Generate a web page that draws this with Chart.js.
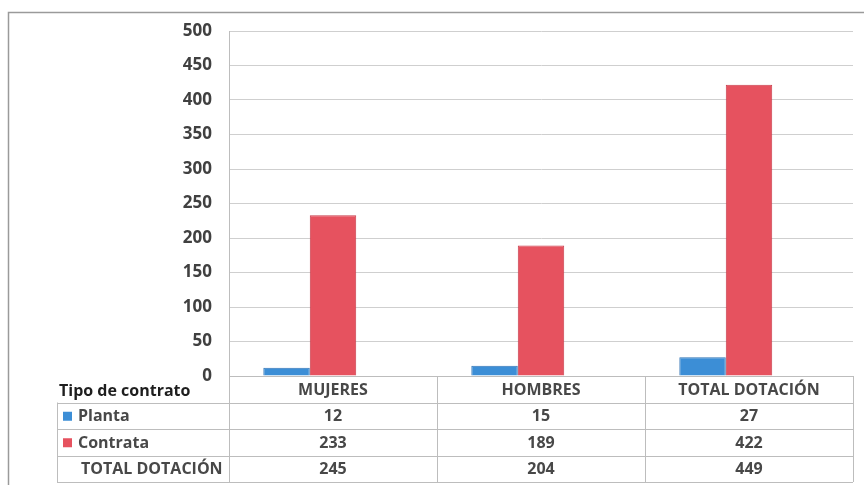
<!DOCTYPE html>
<html>
<head>
<meta charset="utf-8">
<script src="https://cdn.jsdelivr.net/npm/chart.js@4"></script>
<style>
  html, body { margin: 0; padding: 0; background: #fff; }
  #wrap { width: 864px; height: 485px; }
</style>
</head>
<body>
<div id="wrap"><canvas id="dotacionChart" width="864" height="485"></canvas></div>
<script>
  // datos
  const categories = ['MUJERES', 'HOMBRES', 'TOTAL DOTACIÓN'];
  const planta = [12, 15, 27];
  const contrata = [233, 189, 422];
  const totalDotacion = [245, 204, 449];
  const yTicks = [0, 50, 100, 150, 200, 250, 300, 350, 400, 450, 500];

  const blue = '#3c8ed6';
  const red = '#e6525f';
  const textFont = '"Open Sans", sans-serif';

  // tabla de datos bajo el grafico (como en Excel)
  const dataTable = {
    id: 'dataTable',
    beforeDraw(chart) {
      const ctx = chart.ctx;
      ctx.save();
      ctx.fillStyle = '#fff';
      ctx.fillRect(0, 0, chart.width, chart.height);
      ctx.strokeStyle = '#9a9a9a';
      ctx.lineWidth = 1.5;
      ctx.strokeRect(8.5, 12.5, 880, 500);
      ctx.restore();
    },
    afterDraw(chart) {
      const ctx = chart.ctx;
      const x = chart.scales.x;
      const area = chart.chartArea;
      const left = 57;
      const rowH = 26.5;
      const top = area.bottom;
      const colW = (x.right - x.left) / categories.length;
      const rows = [
        { label: 'Planta', color: blue, values: planta },
        { label: 'Contrata', color: red, values: contrata },
        { label: 'TOTAL DOTACIÓN', color: null, values: totalDotacion }
      ];

      ctx.save();
      ctx.strokeStyle = '#bdbdbd';
      ctx.lineWidth = 1;

      // lineas horizontales
      ctx.beginPath();
      ctx.moveTo(x.left, top + 0.5);
      ctx.lineTo(x.right, top + 0.5);
      for (let r = 1; r <= rows.length + 1; r++) {
        const y = Math.round(top + r * rowH) + 0.5;
        ctx.moveTo(left, y);
        ctx.lineTo(x.right, y);
      }
      // lineas verticales
      for (let c = 0; c <= categories.length; c++) {
        const xx = Math.round(x.left + c * colW) + 0.5;
        ctx.moveTo(xx, top);
        ctx.lineTo(xx, top + (rows.length + 1) * rowH);
      }
      ctx.moveTo(left + 0.5, top + rowH);
      ctx.lineTo(left + 0.5, top + (rows.length + 1) * rowH);
      ctx.stroke();

      ctx.textBaseline = 'middle';

      // encabezado
      ctx.fillStyle = '#1e1e1e';
      ctx.font = 'bold 16px ' + textFont;
      ctx.textAlign = 'left';
      ctx.fillText('Tipo de contrato', 59, top + rowH / 2 + 2);

      ctx.fillStyle = '#484848';
      ctx.font = 'bold 16px ' + textFont;
      ctx.textAlign = 'center';
      categories.forEach((cat, i) => {
        ctx.fillText(cat, x.left + (i + 0.5) * colW, top + rowH / 2 + 1);
      });

      rows.forEach((row, r) => {
        const cy = top + (r + 1.5) * rowH + 1;
        ctx.textAlign = 'left';
        if (row.color) {
          ctx.fillStyle = row.color;
          ctx.fillRect(63, cy - 5, 9, 9);
          ctx.fillStyle = '#484848';
          ctx.fillText(row.label, 78, cy);
        } else {
          ctx.fillStyle = '#484848';
          ctx.fillText(row.label, 81, cy);
        }
        ctx.textAlign = 'center';
        row.values.forEach((v, i) => {
          ctx.fillText(String(v), x.left + (i + 0.5) * colW, cy);
        });
      });
      ctx.restore();
    }
  };

  const ctx = document.getElementById('dotacionChart').getContext('2d');
  new Chart(ctx, {
    type: 'bar',
    data: {
      labels: categories,
      datasets: [
        {
          label: 'Planta',
          data: planta,
          backgroundColor: blue,
          borderColor: '#2f73b5',
          borderWidth: 1
        },
        {
          label: 'Contrata',
          data: contrata,
          backgroundColor: red,
          borderColor: '#c93d4b',
          borderWidth: 1
        },
        {
          // serie total sin relleno, solo ocupa su lugar en el grupo
          label: 'TOTAL DOTACIÓN',
          data: totalDotacion,
          backgroundColor: 'rgba(0,0,0,0)',
          borderWidth: 0
        }
      ]
    },
    options: {
      responsive: false,
      animation: false,
      events: [],
      layout: { padding: { left: 0, right: 11, top: 31, bottom: 109 } },
      plugins: {
        legend: { display: false },
        tooltip: { enabled: false }
      },
      datasets: {
        bar: { categoryPercentage: 0.67, barPercentage: 1.0 }
      },
      scales: {
        x: {
          display: false
        },
        y: {
          min: 0,
          max: 500,
          afterFit(scale) { scale.width = 229; },
          afterBuildTicks(scale) { scale.ticks = yTicks.map(v => ({ value: v })); },
          grid: { color: '#cfcfcf', drawTicks: false },
          border: { display: true, color: '#bdbdbd' },
          ticks: {
            padding: 17,
            color: '#404040',
            font: { family: textFont, size: 17, weight: 'bold' }
          }
        }
      }
    },
    plugins: [dataTable]
  });
</script>
</body>
</html>
